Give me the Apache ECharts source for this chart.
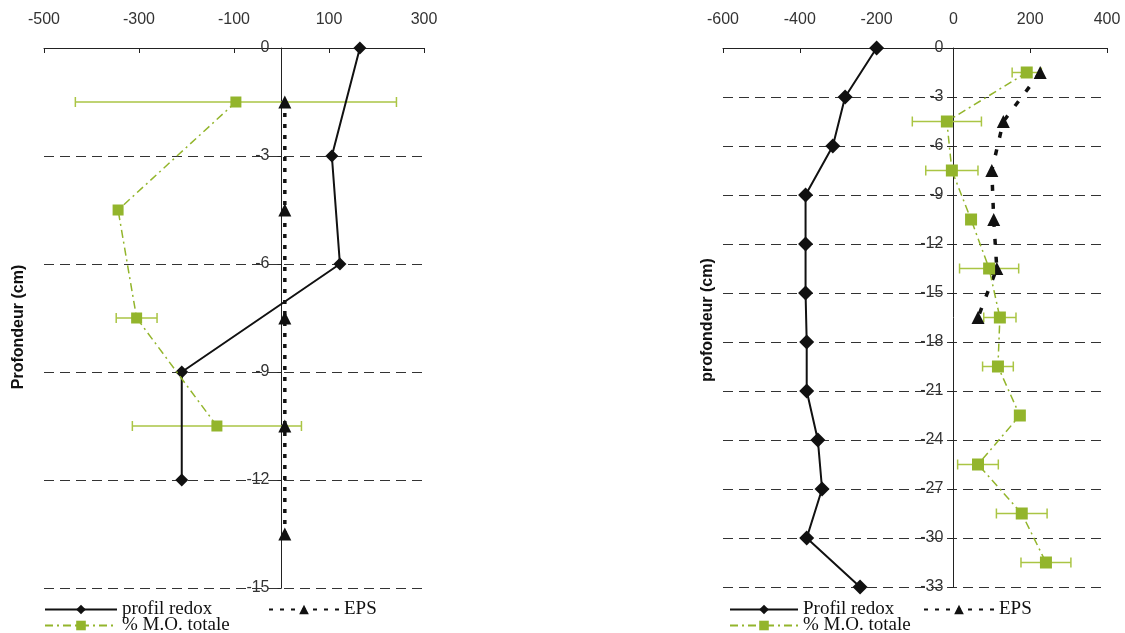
<!DOCTYPE html>
<html>
<head>
<meta charset="utf-8">
<script type="text/javascript" src="https://cdn.jsdelivr.net/npm/echarts@6/dist/echarts.min.js"></script>
<title>Profils redox, M.O. et EPS</title>
</head>
<body style="margin:0;background:#fff;">
<div id="container" style="width:1125px;height:633px;"></div>
<script type="text/javascript">
// --- graphique de gauche ---
var depthRedoxA = [0, -3, -6, -9, -12];
var redoxA = [165, 106, 123, -210, -210];
var depthMoA = [-1.5, -4.5, -7.5, -10.5];
var moA = [-96, -344, -305, -136];
var moErrA = [338, 0, 43, 178];
var depthEpsA = [-1.5, -4.5, -7.5, -10.5, -13.5];
var epsA = [7, 7, 7, 7, 7];

// --- graphique de droite ---
var depthRedoxB = [0, -3, -6, -9, -12, -15, -18, -21, -24, -27, -30, -33];
var redoxB = [-200, -282, -314, -385, -385, -385, -382, -382, -353, -342, -382, -243];
var depthMoB = [-1.5, -4.5, -7.5, -10.5, -13.5, -16.5, -19.5, -22.5, -25.5, -28.5, -31.5];
var moB = [191, -17, -4, 46, 93, 121, 116, 173, 64, 178, 241];
var moErrB = [38, 90, 68, 0, 77, 42, 40, 12, 53, 66, 65];
var depthEpsB = [-1.5, -4.5, -7.5, -10.5, -13.5, -16.5];
var epsB = [226, 130, 100, 105, 113, 64];

var GREEN = '#93b52c';
var GREEN_BAR = '#aac544';

function pairs(xs, ys) {
    return xs.map(function (x, i) { return [x, ys[i]]; });
}
function triples(xs, ys, es) {
    return xs.map(function (x, i) { return [x, ys[i], es[i]]; });
}

// barres d'erreur horizontales
function errRender(params, api) {
    var x = api.value(0), y = api.value(1), e = api.value(2);
    if (!e) return null;
    var a = api.coord([x - e, y]);
    var b = api.coord([x + e, y]);
    var h = 5;
    var st = { stroke: GREEN_BAR, lineWidth: 1.5 };
    return {
        type: 'group',
        children: [
            { type: 'line', shape: { x1: a[0], y1: a[1], x2: b[0], y2: b[1] }, style: st },
            { type: 'line', shape: { x1: a[0], y1: a[1] - h, x2: a[0], y2: a[1] + h }, style: st },
            { type: 'line', shape: { x1: b[0], y1: b[1] - h, x2: b[0], y2: b[1] + h }, style: st }
        ]
    };
}

var tickFont = { fontFamily: 'Liberation Sans', fontSize: 16, color: '#333' };
var legendFont = { fontFamily: 'Liberation Serif', fontSize: 19, color: '#111' };

var grids = [
    { left: 44, top: 48, width: 380, height: 540, outerBoundsMode: 'none' },
    { left: 723, top: 48, width: 384, height: 539, outerBoundsMode: 'none' }
];

function xAxisDef(gi, min, max) {
    return {
        gridIndex: gi, type: 'value', position: 'top', min: min, max: max, interval: 200,
        axisLine: { onZero: false, lineStyle: { color: '#222', width: 1 } },
        axisTick: { inside: true, length: 5, lineStyle: { color: '#222' } },
        axisLabel: Object.assign({ margin: 20 }, tickFont),
        splitLine: { show: false }
    };
}
// l'axe vertical est placé sur x = 0 (décalage négatif vers la droite)
function yAxisDef(gi, min, xmin, xmax, margin) {
    var shift = (0 - xmin) / (xmax - xmin) * grids[gi].width;
    return {
        gridIndex: gi, type: 'value', min: min, max: 0, interval: 3,
        offset: -shift,
        axisLine: { onZero: false, lineStyle: { color: '#222', width: 1 } },
        axisTick: { show: true, length: 4, lineStyle: { color: '#222' } },
        axisLabel: Object.assign({ margin: margin }, tickFont),
        splitLine: { show: true, lineStyle: { color: '#333', type: [10, 6], width: 1 } }
    };
}

var redoxStyle = { color: '#111', width: 2 };
var moStyle = { color: GREEN, width: 1.5, type: [8, 4, 2, 4] };
var epsStyle = { color: '#111', width: 3.5, type: [4, 7] };

var myChart = echarts.init(document.getElementById('container'));

var option = {
    animation: false,
    grid: grids,
    xAxis: [xAxisDef(0, -500, 300), xAxisDef(1, -600, 400)],
    yAxis: [yAxisDef(0, -15, -500, 300, 12), yAxisDef(1, -33, -600, 400, 10)],
    legend: [
        { data: ['profil redox'], left: 39, top: 595, itemWidth: 72, itemHeight: 12, textStyle: legendFont },
        { data: ['EPS'], left: 263, top: 595, itemWidth: 70, itemHeight: 12, textStyle: legendFont },
        { data: ['% M.O. totale'], left: 39, top: 611, itemWidth: 72, itemHeight: 12, textStyle: legendFont },
        { data: ['Profil redox'], left: 724, top: 595, itemWidth: 68, itemHeight: 12, textStyle: legendFont },
        { data: ['EPS'], left: 918, top: 595, itemWidth: 70, itemHeight: 12, textStyle: legendFont },
        { data: ['% M.O. totale'], left: 724, top: 611, itemWidth: 68, itemHeight: 12, textStyle: legendFont }
    ],
    graphic: [
        {
            type: 'text', x: 19, y: 327, rotation: Math.PI / 2,
            style: { text: 'Profondeur (cm)', font: 'bold 16px "Liberation Sans"', fill: '#111', align: 'center', verticalAlign: 'middle' }
        },
        {
            type: 'text', x: 708, y: 320, rotation: Math.PI / 2,
            style: { text: 'profondeur (cm)', font: 'bold 16px "Liberation Sans"', fill: '#111', align: 'center', verticalAlign: 'middle' }
        }
    ],
    series: [
        // gauche
        {
            name: 'err A', type: 'custom', xAxisIndex: 0, yAxisIndex: 0, z: 2,
            renderItem: errRender, encode: { x: 0, y: 1 }, data: triples(moA, depthMoA, moErrA)
        },
        {
            name: 'profil redox', type: 'line', xAxisIndex: 0, yAxisIndex: 0, z: 3,
            data: pairs(redoxA, depthRedoxA), symbol: 'diamond', symbolSize: 13,
            itemStyle: { color: '#111' }, lineStyle: redoxStyle
        },
        {
            name: 'EPS', type: 'line', xAxisIndex: 0, yAxisIndex: 0, z: 3,
            data: pairs(epsA, depthEpsA), symbol: 'triangle', symbolSize: 13,
            itemStyle: { color: '#111' }, lineStyle: epsStyle
        },
        {
            name: '% M.O. totale', type: 'line', xAxisIndex: 0, yAxisIndex: 0, z: 4,
            data: pairs(moA, depthMoA), symbol: 'rect', symbolSize: 11,
            itemStyle: { color: GREEN }, lineStyle: moStyle
        },
        // droite
        {
            name: 'err B', type: 'custom', xAxisIndex: 1, yAxisIndex: 1, z: 2,
            renderItem: errRender, encode: { x: 0, y: 1 }, data: triples(moB, depthMoB, moErrB)
        },
        {
            name: 'Profil redox', type: 'line', xAxisIndex: 1, yAxisIndex: 1, z: 3,
            data: pairs(redoxB, depthRedoxB), symbol: 'diamond', symbolSize: 15,
            itemStyle: { color: '#111' }, lineStyle: redoxStyle
        },
        {
            name: 'EPS', type: 'line', xAxisIndex: 1, yAxisIndex: 1, z: 3,
            data: pairs(epsB, depthEpsB), symbol: 'triangle', symbolSize: 13,
            itemStyle: { color: '#111' }, lineStyle: { color: '#111', width: 3.5, type: [6, 12] }
        },
        {
            name: '% M.O. totale', type: 'line', xAxisIndex: 1, yAxisIndex: 1, z: 4,
            data: pairs(moB, depthMoB), symbol: 'rect', symbolSize: 12,
            itemStyle: { color: GREEN }, lineStyle: moStyle
        }
    ]
};

myChart.setOption(option);
</script>
</body>
</html>
